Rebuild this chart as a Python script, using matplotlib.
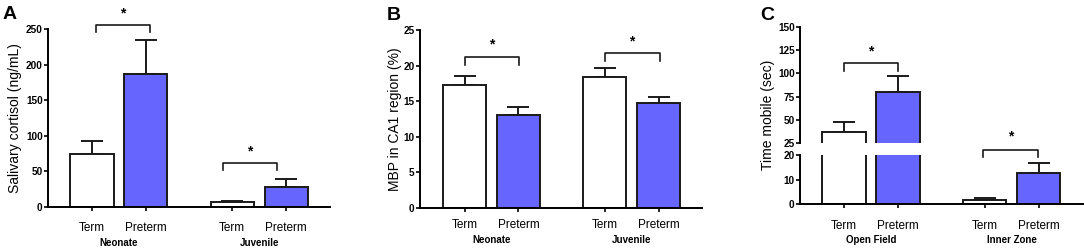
import numpy as np
import matplotlib.pyplot as plt
from matplotlib import transforms

plt.rcParams['font.family'] = ['Liberation Sans', 'DejaVu Sans']
plt.rcParams['axes.linewidth'] = 1.4

# data
tick_labels = ['Term', 'Preterm', 'Term', 'Preterm']

groups_a = ['Neonate', 'Juvenile']
means_a = [74, 187, 6.5, 28]
sems_a = [18.5, 47.5, 2.0, 10.5]

groups_b = ['Neonate', 'Juvenile']
means_b = [17.2, 13.1, 18.4, 14.8]
sems_b = [1.3, 1.0, 1.3, 0.8]

groups_c = ['Open Field', 'Inner Zone']
means_c = [37.5, 80.3, 1.7, 12.6]
sems_c = [10.3, 16.8, 0.9, 4.3]

# significance brackets: (x1, x2, y, leg bottom, star y)
sig_a = [(0.07, 1.08, 255, 245.5, 272), (2.43, 3.43, 61.5, 52, 77.5)]
sig_b = [(0.0, 1.02, 21.2, 20.1, 22.9), (2.6, 3.62, 21.7, 20.6, 23.4)]
sig_c_top = [(0.0, 1.0, 110.7, 102.8, 123)]
sig_c_low = [(2.57, 3.58, 22.0, 19.3, 27.4)]

xpos = np.array([0, 1, 2.6, 3.6])
colors = ['white', '#6666ff', 'white', '#6666ff']
W, H = 1084, 249


def px_axes(left, right, top, bottom):
    return [left / W, (H - bottom) / H, (right - left) / W, (bottom - top) / H]


def draw_bars(ax, means, sems):
    ax.errorbar(xpos, means, yerr=[np.zeros(len(sems)), sems], fmt='none',
                ecolor='#1a1a1a', elinewidth=1.4, capsize=8, capthick=1.4, zorder=1)
    ax.bar(xpos, means, width=0.8, color=colors, edgecolor='#1a1a1a',
           linewidth=1.4, zorder=2)


def draw_sig(ax, sigs):
    for x1, x2, y, yl, ys in sigs:
        ax.plot([x1, x1, x2, x2], [yl, y, y, yl], color='#1a1a1a', lw=1.2,
                clip_on=False)
        ax.text((x1 + x2) / 2, ys, '*', ha='center', va='center',
                fontsize=10, fontweight='bold', clip_on=False)


def style(ax, xl, pad, gy, groups, xaxis=True):
    ax.spines['top'].set_visible(False)
    ax.spines['right'].set_visible(False)
    ax.set_xlim(*xl)
    ax.tick_params(axis='y', length=3, width=1.2, labelsize=7.2, pad=0.8)
    for t in ax.get_yticklabels():
        t.set_fontweight('bold')
    if xaxis:
        ax.set_xticks(xpos)
        ax.set_xticklabels(tick_labels, fontsize=8.5)
        ax.tick_params(axis='x', length=3, width=1.2, pad=pad)
        tr = transforms.blended_transform_factory(ax.transData, ax.transAxes)
        for i, g in enumerate(groups):
            ax.text(xpos[2 * i:2 * i + 2].mean(), gy, g, transform=tr,
                    ha='center', va='center', fontsize=7, fontweight='bold')
    else:
        ax.spines['bottom'].set_visible(False)
        ax.set_xticks([])


fig = plt.figure(figsize=(W / 100, H / 100), dpi=100)

# panel A
ax = fig.add_axes(px_axes(48, 330, 29, 206.7))
draw_bars(ax, means_a, sems_a)
ax.set_ylim(0, 250)
ax.set_yticks(np.arange(0, 251, 50))
style(ax, (-0.816, 4.415), 8, -0.205, groups_a)
draw_sig(ax, sig_a)
ax.set_ylabel('Salivary cortisol (ng/mL)', fontsize=10)
ax.yaxis.set_label_coords(-0.092, 0.5)
fig.text(3 / W, 1 - 6 / H, 'A', fontsize=14, fontweight='bold', va='top')

# panel B
ax = fig.add_axes(px_axes(420, 702, 30, 207.7))
draw_bars(ax, means_b, sems_b)
ax.set_ylim(0, 25)
ax.set_yticks(np.arange(0, 26, 5))
style(ax, (-0.826, 4.406), 5, -0.18, groups_b)
draw_sig(ax, sig_b)
ax.set_ylabel('MBP in CA1 region (%)', fontsize=10)
ax.yaxis.set_label_coords(-0.064, 0.5)
fig.text(387 / W, 1 - 7 / H, 'B', fontsize=14, fontweight='bold', va='top')

# panel C, broken y axis
xl_c = (-0.815, 4.44)
axt = fig.add_axes(px_axes(800, 1084, 26.7, 143.3))
draw_bars(axt, means_c, sems_c)
axt.set_ylim(25, 150)
axt.set_yticks(np.arange(25, 151, 25))
style(axt, xl_c, 0, 0, groups_c, xaxis=False)
draw_sig(axt, sig_c_top)

axl = fig.add_axes(px_axes(800, 1084, 155, 204.3))
draw_bars(axl, means_c, sems_c)
axl.set_ylim(0, 20)
axl.set_yticks([0, 10, 20])
style(axl, xl_c, 8, -0.73, groups_c)
draw_sig(axl, sig_c_low)
axl.set_ylabel('Time mobile (sec)', fontsize=10)
axl.yaxis.set_label_coords(-0.088, (204.3 - 115) / 49.3)
fig.text(760 / W, 1 - 7 / H, 'C', fontsize=14, fontweight='bold', va='top')

fig.savefig('out.png', dpi=100)
